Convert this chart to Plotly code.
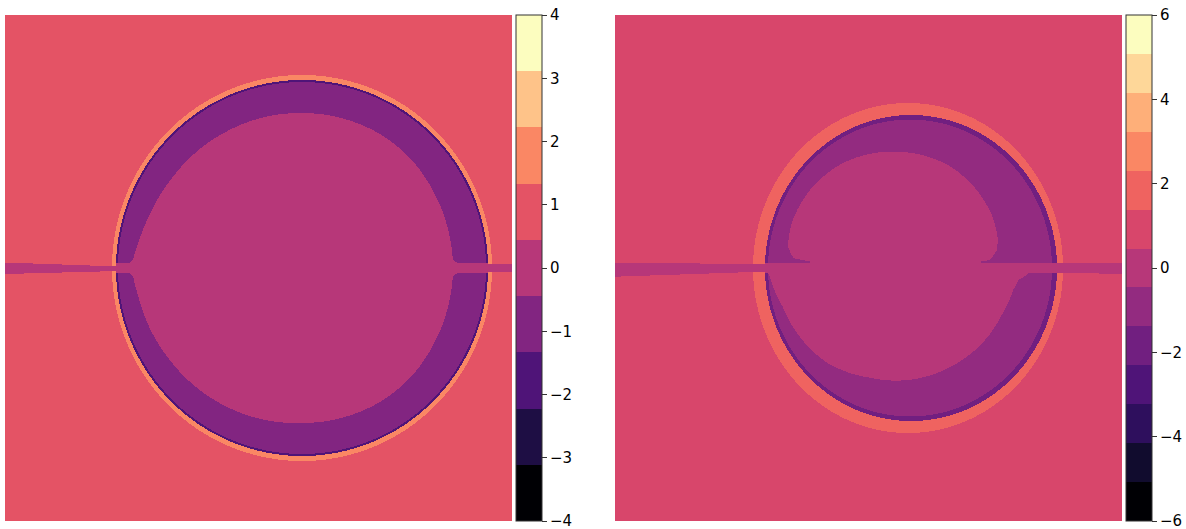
import numpy as np
import plotly.graph_objects as go

# ---------------- data ----------------
# contour levels and colorbar ticks
left_levels = np.linspace(-4, 4, 10)      # 9 filled bands
right_levels = np.linspace(-6, 6, 14)     # 13 filled bands
left_ticks = [-4, -3, -2, -1, 0, 1, 2, 3, 4]
right_ticks = [-6, -4, -2, 0, 2, 4, 6]

# representative field values of each region
left_values = dict(background=0.9, ring=1.8, shell=-0.9, edge=-1.8, core=0.0)
right_values = dict(background=0.9, ring=1.8, shell=-0.9, edge=-1.8, core=0.0)

# region boundaries (plot units, y up)
left_geo = dict(
    ring_c=(43.5, 0.0), ring_r=(190, 193),
    shell_c=(43.5, 0.0), shell_r=(186, 188),
    edge_c=(43.5, 0.0), edge_r=(184, 186),
    core_c=(43.5, 0.0),
    core_theta=[0, 15, 30, 45, 60, 90, 120, 145, 160, 170, 177, 183, 190, 200, 215, 240, 270, 300, 315, 330, 345, 360],
    core_r=[151, 151, 152, 154, 155, 155, 156, 158, 161, 165, 169, 169, 166, 164, 161, 158, 155, 155, 154, 152, 151, 151],
    neck=(5.0, -5.0),
    slit_x=[-253.5, -140, 225, 253.5],
    slit_top=[5.5, 1.5, 3.7, 3.7],
    slit_bot=[-6.0, -3.0, -4.3, -4.3],
    blur=3.0,
)
right_geo = dict(
    ring_c=(39.5, 0.0), ring_r=(155, 165),
    shell_c=(42.5, 0.0), shell_r=(146, 153),
    edge_c=(41.5, 0.0), edge_r=(142, 148.5),
    core_c=(24.5, 2.0),
    core_theta=[0.5, 2.2, 3.5, 8.7, 13.9, 26.1, 42.1, 61, 81.4, 115.9, 137.5, 156.9, 169.7, 175.4, 177.7, 179.5,
                180.5, 185.1, 200.4, 214.9, 235.8, 258.3, 278.5, 299.4, 319.4, 334.5, 348.7, 353.5, 356.2, 359.5],
    core_r=[40, 77, 97, 105, 108, 111, 113, 115, 114.5, 114.5, 112.5, 110, 106.7, 100, 75, 40,
            128, 123.5, 117.5, 117, 117, 114, 115, 116, 118, 119, 122.5, 126, 134, 140],
    neck=(5.0, -5.0),
    slit_x=[-253.5, -115.5, 194.5, 253.5],
    slit_top=[5.3, 4.0, 4.7, 5.3],
    slit_bot=[-8.7, -4.0, -4.7, -6.0],
    blur=1.0,
)

MAGMA = ["#000004", "#140e36", "#3b0f70", "#641a80", "#8c2981", "#b73779",
         "#de4968", "#f7705c", "#fe9f6d", "#fecf92", "#fcfdbf"]

# ---------------- helpers ----------------
xc = np.arange(507) - 253.0
yc = 252.5 - np.arange(506)


def magma(t):
    rgb = np.array([[int(h[i:i + 2], 16) for i in (1, 3, 5)] for h in MAGMA], float)
    pos = np.linspace(0, 1, len(MAGMA))
    c = [np.interp(t, pos, rgb[:, k]) for k in range(3)]
    return "rgb(%d,%d,%d)" % tuple(int(round(v)) for v in c)


def stepped_scale(levels):
    n = len(levels) - 1
    cs = []
    for k in range(n):
        col = magma(k / (n - 1))
        cs.append([k / n, col])
        cs.append([(k + 1) / n, col])
    return cs


def blur(a, s):
    k = np.arange(-int(3 * s) - 1, int(3 * s) + 2)
    g = np.exp(-k ** 2 / (2 * s * s))
    g /= g.sum()
    a = np.apply_along_axis(lambda v: np.convolve(v, g, mode="same"), 0, a)
    a = np.apply_along_axis(lambda v: np.convolve(v, g, mode="same"), 1, a)
    return a


def build(geo, vals):
    X, Y = np.meshgrid(xc, yc)

    def ell(c, r):
        return ((X - c[0]) / r[0]) ** 2 + ((Y - c[1]) / r[1]) ** 2 <= 1

    Z = np.full(X.shape, vals["background"])
    ring = ell(geo["ring_c"], geo["ring_r"])
    shell = ell(geo["shell_c"], geo["shell_r"])
    inner = ell(geo["edge_c"], geo["edge_r"])
    Z[ring] = vals["ring"]
    Z[shell] = vals["edge"]
    Z[inner] = vals["shell"]

    dx = X - geo["core_c"][0]
    dy = Y - geo["core_c"][1]
    r = np.hypot(dx, dy)
    th = np.degrees(np.arctan2(dy, dx)) % 360
    rin = np.interp(th, geo["core_theta"], geo["core_r"])
    core = (r <= rin) | ((Y <= geo["neck"][0]) & (Y >= geo["neck"][1]))
    if geo["blur"]:
        core = blur(core.astype(float), geo["blur"]) >= 0.5
    Z[core & shell] = vals["core"]

    top = np.interp(X, geo["slit_x"], geo["slit_top"])
    bot = np.interp(X, geo["slit_x"], geo["slit_bot"])
    slit = (Y <= top) & (Y >= bot) & ~shell
    Z[slit] = vals["core"]
    return Z


W, H = 1186, 529
Zl = build(left_geo, left_values)
Zr = build(right_geo, right_values)


def cbar(x_px, ticks):
    return dict(
        x=x_px / W, xanchor="left", xref="paper",
        y=1 - 268 / H, yanchor="middle", len=506 / H, lenmode="fraction",
        thickness=26, xpad=0, ypad=0,
        outlinecolor="#333", outlinewidth=1,
        tickmode="array", tickvals=ticks, ticklabeloverflow="allow",
        ticks="outside", ticklen=5, tickwidth=1, tickcolor="#333",
        tickfont=dict(family="DejaVu Sans", size=15, color="#000"),
    )


fig = go.Figure()
fig.add_trace(go.Heatmap(
    x=xc, y=yc, z=Zl, zmin=left_levels[0], zmax=left_levels[-1],
    colorscale=stepped_scale(left_levels), zsmooth=False, hoverinfo="skip",
    colorbar=cbar(516, left_ticks), xaxis="x", yaxis="y"))
fig.add_trace(go.Heatmap(
    x=xc, y=yc, z=Zr, zmin=right_levels[0], zmax=right_levels[-1],
    colorscale=stepped_scale(right_levels), zsmooth=False, hoverinfo="skip",
    colorbar=cbar(1126, right_ticks), xaxis="x2", yaxis="y2"))

ax = dict(visible=False, showgrid=False, zeroline=False, fixedrange=True)
fig.update_layout(
    width=W, height=H, margin=dict(l=0, r=0, t=0, b=0),
    paper_bgcolor="white", plot_bgcolor="white", showlegend=False,
    xaxis=dict(domain=[5 / W, 512 / W], range=[-253.5, 253.5], **ax),
    yaxis=dict(domain=[1 - 521 / H, 1 - 15 / H], range=[-253, 253], **ax),
    xaxis2=dict(domain=[615 / W, 1122 / W], range=[-253.5, 253.5], anchor="y2", **ax),
    yaxis2=dict(domain=[1 - 521 / H, 1 - 15 / H], range=[-253, 253], anchor="x2", **ax),
)
fig.write_html("out.html", config={"displayModeBar": False},
               post_script="document.body.style.margin='0px';document.body.style.overflow='hidden';")
